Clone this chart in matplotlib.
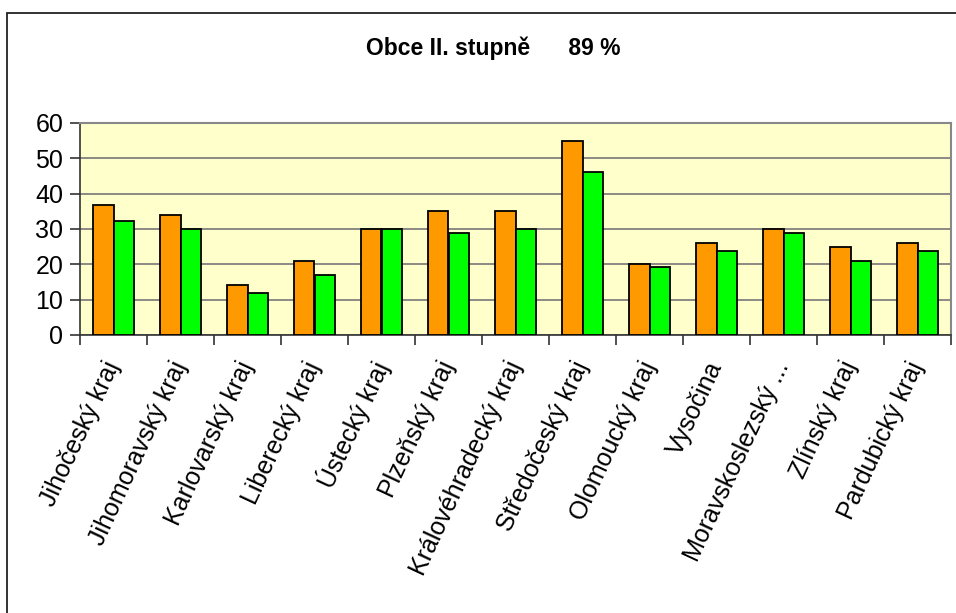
import matplotlib
matplotlib.use("Agg")
import matplotlib.pyplot as plt
import matplotlib.patches as mpatches
import numpy as np

KRAJE = ["Jihočeský kraj", "Jihomoravský kraj", "Karlovarský kraj", "Liberecký kraj",
         "Ústecký kraj", "Plzeňský kraj", "Královéhradecký kraj", "Středočeský kraj",
         "Olomoucký kraj", "Vysočina", "Moravskoslezský ...", "Zlínský kraj",
         "Pardubický kraj"]
SERIE_1 = [36.7, 34, 14.2, 21, 30, 35, 35, 55, 20, 26, 30, 25, 26]
SERIE_2 = [32.3, 30, 11.9, 17, 30, 29, 30, 46, 19.3, 23.8, 29, 21, 23.8]
Y_TICKS = [0, 10, 20, 30, 40, 50, 60]
TITLE = "Obce II. stupně      89 %"

plt.rcParams["font.family"] = ["Liberation Sans", "DejaVu Sans"]

fig = plt.figure(figsize=(9.56, 6.13), dpi=100)
fig.patch.set_facecolor("white")

# vnější rámeček
fig.patches.append(mpatches.Rectangle((7 / 956, -0.1), 1.2, (613 - 13) / 613 + 0.1,
                                      transform=fig.transFigure, fill=False,
                                      edgecolor="#222222", linewidth=1.3))

ax = fig.add_axes([80 / 956, (613 - 335) / 613, 871 / 956, 212 / 613])
ax.set_facecolor("#FFFFCC")

x = np.arange(len(KRAJE))
w = 0.3
ax.bar(x - w / 2, SERIE_1, w, color="#FF9900", edgecolor="black", linewidth=1.3, zorder=3)
ax.bar(x + w / 2, SERIE_2, w, color="#00FF00", edgecolor="black", linewidth=1.3, zorder=3)

ax.set_xlim(-0.5, len(KRAJE) - 0.5)
ax.set_ylim(0, 60)
ax.set_yticks(Y_TICKS)
ax.yaxis.grid(True, color="#777777", linewidth=1.2, zorder=1)
ax.set_axisbelow(True)

ax.set_xticks(np.arange(len(KRAJE) + 1) - 0.5)
ax.set_xticklabels([])
ax.set_xticks(x, minor=True)
ax.set_xticklabels(KRAJE, minor=True, rotation=65, ha="right", va="center",
                   rotation_mode="anchor", fontsize=18)
ax.tick_params(axis="x", which="minor", length=0, pad=20)
ax.tick_params(axis="x", which="major", length=7, width=1.2, color="#333333")
ax.tick_params(axis="y", length=7, width=1.2, color="#333333", labelsize=18, pad=5)

for side in ["top", "right"]:
    ax.spines[side].set_color("#888888")
    ax.spines[side].set_linewidth(1.5)
for side in ["left", "bottom"]:
    ax.spines[side].set_color("#333333")
    ax.spines[side].set_linewidth(1.2)

fig.text(493 / 956, 1 - 48 / 613, TITLE, ha="center", va="center",
         fontsize=16.5, fontweight="bold")

fig.savefig("out.png", dpi=100)
